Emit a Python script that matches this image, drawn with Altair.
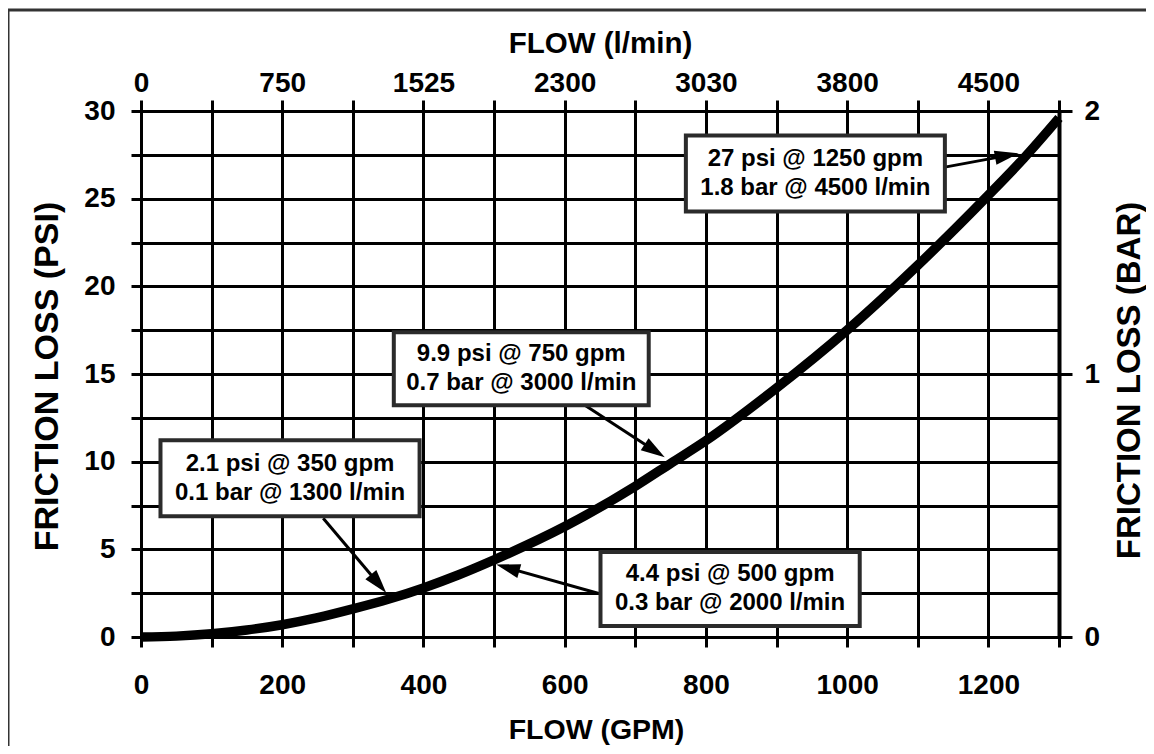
import math
import altair as alt
import pandas as pd

# ---- data ----
gpm = [0, 50, 100, 150, 200, 250, 300, 350, 400, 450, 500, 600, 700, 750, 800, 900, 1000, 1100, 1200, 1250, 1300]
psi = [0, 0.05, 0.18, 0.4, 0.7, 1.1, 1.6, 2.15, 2.8, 3.55, 4.4, 6.3, 8.6, 9.9, 11.2, 14.2, 17.5, 21.2, 25.2, 27.3, 29.6]

x_tick_values = list(range(0, 1301, 100))
psi_tick_values = [0, 2.5, 5, 7.5, 10, 12.5, 15, 17.5, 20, 22.5, 25, 27.5, 30]
top_label_gpm = [0, 200, 400, 600, 800, 1000, 1200]
top_label_text = ["0", "750", "1525", "2300", "3030", "3800", "4500"]
bar_tick_psi = [0, 15, 30]
bar_tick_text = ["0", "1", "2"]

note_line1 = ["27 psi @ 1250 gpm", "9.9 psi @ 750 gpm", "2.1 psi @ 350 gpm", "4.4 psi @ 500 gpm"]
note_line2 = ["1.8 bar @ 4500 l/min", "0.7 bar @ 3000 l/min", "0.1 bar @ 1300 l/min", "0.3 bar @ 2000 l/min"]

# annotation placement (data units: gpm / psi)
box_x1 = [771.6, 358.0, 27.6, 650.7]
box_x2 = [1138.4, 719.0, 394.5, 1017.8]
box_y1 = [24.27, 13.22, 6.88, 0.63]
box_y2 = [28.60, 17.38, 11.22, 4.85]
arrow_tail_x = [1138.4, 628.6, 258.0, 648.3]
arrow_tail_y = [26.8, 13.22, 6.77, 2.48]
arrow_tip_x = [1243.0, 741.7, 347.4, 503.0]
arrow_tip_y = [27.58, 10.25, 2.51, 4.13]

# ---- layout / style ----
W, H = 918, 526
XMAX, YMAX = 1300, 30
FONT = "Liberation Sans"
KX, KY = W / XMAX, H / YMAX

def xs(field, axis=None):
    return alt.X(field, type="quantitative", scale=alt.Scale(domain=[0, XMAX], nice=False, zero=False), axis=axis)

def ys(field, axis=None):
    return alt.Y(field, type="quantitative", scale=alt.Scale(domain=[0, YMAX], nice=False, zero=False), axis=axis)

curve_df = pd.DataFrame({"gpm": gpm, "psi": psi})

boxes = pd.DataFrame({
    "x1": box_x1, "x2": box_x2, "y1": box_y1, "y2": box_y2,
    "l1": note_line1, "l2": note_line2,
})
boxes["xc"] = (boxes["x1"] + boxes["x2"]) / 2
boxes["yc"] = (boxes["y1"] + boxes["y2"]) / 2
LINE_GAP = 14.5 / KY
boxes["ya"] = boxes["yc"] + LINE_GAP
boxes["yb"] = boxes["yc"] - LINE_GAP

rows = []
for tx, ty, hx, hy in zip(arrow_tail_x, arrow_tail_y, arrow_tip_x, arrow_tip_y):
    dx = (hx - tx) * KX
    dy = -(hy - ty) * KY
    L = math.hypot(dx, dy)
    ang = math.degrees(math.atan2(dx, -dy)) % 360
    sx = hx - (dx / L) * 12 / KX
    sy = hy + (dy / L) * 12 / KY
    rows.append({"tx": tx, "ty": ty, "sx": sx, "sy": sy, "hx": hx, "hy": hy, "ang": ang})
arrows = pd.DataFrame(rows)

top_expr = "".join(f"datum.value == {v} ? '{t}' : " for v, t in zip(top_label_gpm, top_label_text)) + "''"
bar_expr = "".join(f"datum.value == {v} ? '{t}' : " for v, t in zip(bar_tick_psi, bar_tick_text)) + "''"

common = dict(
    labelFont=FONT, labelFontSize=28, labelFontWeight="bold", labelColor="black",
    titleFont=FONT, titleFontWeight="bold", titleColor="black",
    tickColor="black", tickWidth=3, domainColor="black", domainWidth=3,
    labelFlush=False, labelOverlap=False,
)

bottom_axis = alt.Axis(
    orient="bottom", values=x_tick_values,
    labelExpr="datum.value % 200 === 0 ? format(datum.value, 'd') : ''",
    grid=True, gridColor="black", gridWidth=3, gridOpacity=1,
    tickSize=10, labelPadding=46, labelBaseline="alphabetic",
    title="FLOW (GPM)", titleFontSize=28.5, titleX=W / 2 - 4, titleY=101,
    titleBaseline="alphabetic", titleAlign="center",
    **common,
)
left_axis = alt.Axis(
    orient="left", values=psi_tick_values,
    labelExpr="datum.value % 5 === 0 ? format(datum.value, 'd') : ''",
    grid=True, gridColor="black", gridWidth=3, gridOpacity=1,
    tickSize=10, labelPadding=16, labelBaseline="middle",
    title="FRICTION LOSS (PSI)", titleFontSize=34, titleAngle=270, titleX=-94, titleY=H / 2 + 2,
    titleBaseline="middle", titleAlign="center",
    **common,
)
top_axis = alt.Axis(
    orient="top", values=x_tick_values, labelExpr=top_expr,
    grid=False, tickSize=11, labelPadding=9, labelBaseline="alphabetic",
    title="FLOW (l/min)", titleFontSize=29.5, titleX=W / 2, titleY=-59,
    titleBaseline="alphabetic", titleAlign="center",
    **common,
)
right_common = dict(common)
right_common["domainWidth"] = 4
right_axis = alt.Axis(
    orient="right", values=bar_tick_psi, labelExpr=bar_expr,
    grid=False, tickSize=13, labelPadding=12, labelBaseline="middle", labelAlign="left",
    title="FRICTION LOSS (BAR)", titleFontSize=33, titleAngle=270, titleX=70, titleY=H / 2 + 6,
    titleBaseline="middle", titleAlign="center",
    **right_common,
)

frame = alt.Chart(pd.DataFrame({"k": [0]})).mark_rect(
    filled=False, stroke="#333333", strokeWidth=3, fill=None
).encode(
    x=alt.value(-133), y=alt.value(-101), x2=alt.value(W + 300), y2=alt.value(H + 300)
)

curve = alt.Chart(curve_df).mark_line(
    color="black", strokeWidth=9.5, interpolate="monotone", strokeCap="butt"
).encode(x=xs("gpm", bottom_axis), y=ys("psi", left_axis))

axes2 = alt.Chart(curve_df).mark_point(opacity=0).encode(
    x=xs("gpm", top_axis), y=ys("psi", right_axis)
)

shafts = alt.Chart(arrows).mark_rule(color="black", strokeWidth=3).encode(
    x=xs("tx"), y=ys("ty"), x2="sx", y2="sy"
)
heads = alt.Chart(arrows).mark_point(
    shape="M0,0 L-0.3,1 L0.3,1 Z", filled=True, color="black", opacity=1, size=2300, strokeWidth=0
).encode(x=xs("hx"), y=ys("hy"), angle=alt.Angle("ang:Q", scale=None))

box_rects = alt.Chart(boxes).mark_rect(
    fill="white", stroke="#2b2b2b", strokeWidth=4
).encode(x=xs("x1"), x2="x2", y=ys("y1"), y2="y2")

text_a = alt.Chart(boxes).mark_text(
    font=FONT, fontSize=24, fontWeight="bold", color="black", align="center", baseline="middle"
).encode(x=xs("xc"), y=ys("ya"), text="l1")
text_b = alt.Chart(boxes).mark_text(
    font=FONT, fontSize=24, fontWeight="bold", color="black", align="center", baseline="middle"
).encode(x=xs("xc"), y=ys("yb"), text="l2")

chart = alt.layer(
    frame, curve, axes2, shafts, heads, box_rects, text_a, text_b
).resolve_scale(
    x="independent", y="independent"
).properties(
    width=W, height=H,
    padding={"left": 133, "top": 103, "right": 87, "bottom": 109},
    autosize=alt.AutoSizeParams(type="none"),
    background="white",
).configure_view(stroke=None)

chart.save("out.html", embed_options={"renderer": "svg", "actions": False})
